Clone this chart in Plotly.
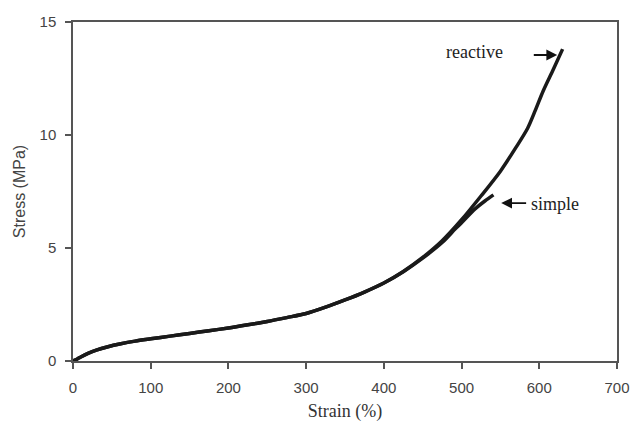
import plotly.graph_objects as go

# Reactive blend curve (strain %, stress MPa)
reactive_strain = [0, 5, 10, 20, 30, 45, 60, 80, 100, 125, 150, 175, 200, 225, 250,
                   275, 300, 325, 350, 375, 400, 425, 450, 475, 500, 525, 550, 570,
                   585, 595, 605, 618, 630]
reactive_stress = [0, 0.08, 0.18, 0.35, 0.48, 0.63, 0.75, 0.88, 0.98, 1.1, 1.22, 1.34,
                   1.46, 1.6, 1.75, 1.92, 2.1, 2.38, 2.7, 3.05, 3.45, 3.96, 4.58, 5.32,
                   6.25, 7.3, 8.4, 9.45, 10.3, 11.1, 11.95, 12.9, 13.8]

# Simple blend curve
simple_strain = [0, 5, 10, 20, 30, 45, 60, 80, 100, 125, 150, 175, 200, 225, 250,
                 275, 300, 325, 350, 375, 400, 425, 450, 475, 492, 500, 517, 530, 541]
simple_stress = [0, 0.08, 0.18, 0.35, 0.48, 0.63, 0.75, 0.88, 0.98, 1.1, 1.22, 1.34,
                 1.46, 1.6, 1.75, 1.92, 2.1, 2.38, 2.7, 3.05, 3.45, 3.95, 4.55, 5.24,
                 5.85, 6.12, 6.72, 7.08, 7.35]

x_ticks = [0, 100, 200, 300, 400, 500, 600, 700]
y_ticks = [0, 5, 10, 15]

fig = go.Figure()
fig.add_trace(go.Scatter(x=simple_strain, y=simple_stress, mode="lines",
                         line=dict(color="#1a1a1a", width=3.5, shape="spline", smoothing=0.8),
                         name="simple"))
fig.add_trace(go.Scatter(x=reactive_strain, y=reactive_stress, mode="lines",
                         line=dict(color="#1a1a1a", width=3.5, shape="spline", smoothing=0.8),
                         name="reactive"))

serif = "Liberation Serif, Times New Roman, serif"
sans = "Liberation Sans, Arial, sans-serif"

# reactive label and arrow
fig.add_annotation(x=517, y=13.67, text="reactive", showarrow=False,
                   font=dict(family=serif, size=18, color="#222"))
fig.add_annotation(x=623, y=13.54, ax=591, ay=13.54, axref="x", ayref="y",
                   text="", showarrow=True, arrowhead=2, arrowsize=1.2,
                   arrowwidth=1.8, arrowcolor="#111")
# simple label and arrow
fig.add_annotation(x=587, y=6.95, text="simple", showarrow=False, xanchor="left",
                   font=dict(family=serif, size=18, color="#222"))
fig.add_annotation(x=551, y=6.99, ax=585, ay=6.99, axref="x", ayref="y",
                   text="", showarrow=True, arrowhead=2, arrowsize=1.2,
                   arrowwidth=1.8, arrowcolor="#111")

axis_common = dict(showgrid=False, zeroline=False, showline=True, linecolor="#555",
                   linewidth=1.5, mirror=True, ticks="outside", ticklen=6,
                   tickcolor="#555", tickwidth=1.5,
                   tickfont=dict(family=sans, size=15, color="#444"))

fig.update_xaxes(range=[0, 700], tickvals=x_ticks, ticktext=[str(v) for v in x_ticks],
                 ticklabelstandoff=6,
                 title=dict(text="Strain (%)", font=dict(family=serif, size=18, color="#333"),
                            standoff=10),
                 **axis_common)
fig.update_yaxes(range=[0, 15], tickvals=y_ticks, ticktext=[str(v) for v in y_ticks],
                 ticklabelstandoff=6,
                 title=dict(text="Stress (MPa)", font=dict(family=sans, size=16, color="#444"),
                            standoff=10),
                 **axis_common)

fig.update_layout(width=642, height=431, margin=dict(l=73, r=14, t=22, b=70),
                  paper_bgcolor="white", plot_bgcolor="white", showlegend=False)

fig.write_html("out.html", config={"displayModeBar": False},
               post_script="document.body.style.margin='0';document.body.style.padding='0';")
